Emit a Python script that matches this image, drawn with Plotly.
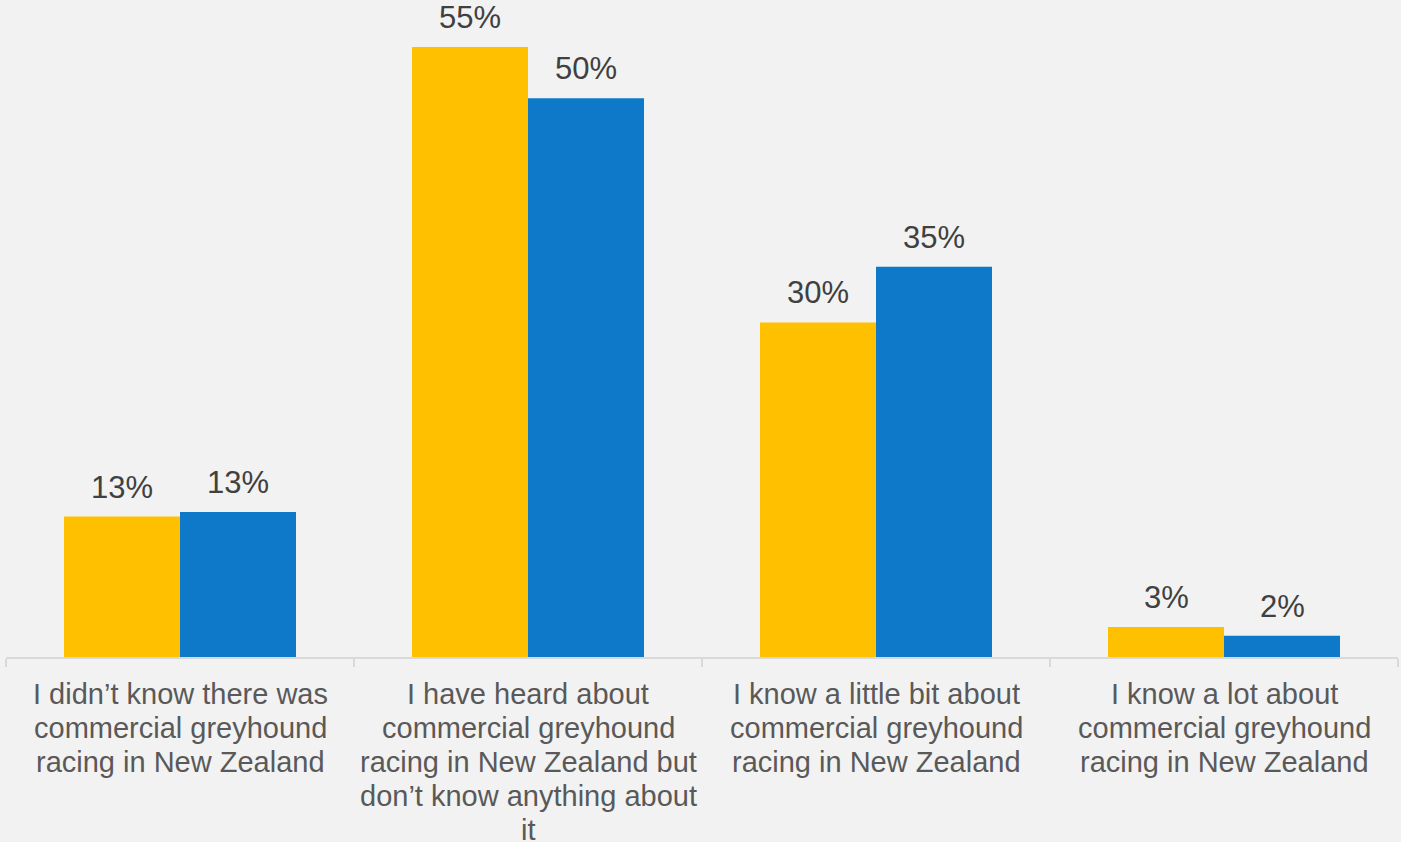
import plotly.graph_objects as go

categories = [
    "I didn’t know there was<br>commercial greyhound<br>racing in New Zealand",
    "I have heard about<br>commercial greyhound<br>racing in New Zealand but<br>don’t know anything about<br>it",
    "I know a little bit about<br>commercial greyhound<br>racing in New Zealand",
    "I know a lot about<br>commercial greyhound<br>racing in New Zealand",
]
series_a = [12.6, 54.7, 30.0, 2.7]
series_b = [13.0, 50.1, 35.0, 1.9]

YELLOW = "#FFC000"
BLUE = "#0E78C9"
FONT = "Liberation Sans, Arial, sans-serif"
LINE_GAP = 34  # px between category label lines
FIRST_LINE = 37  # px from axis to first line centre

fig = go.Figure()
fig.add_trace(go.Bar(x=categories, y=series_a, marker=dict(color=YELLOW, line=dict(width=0)),
                     name="A", hoverinfo="skip"))
fig.add_trace(go.Bar(x=categories, y=series_b, marker=dict(color=BLUE, line=dict(width=0)),
                     name="B", hoverinfo="skip"))

annotations = []
for vals, shift in ((series_a, -58), (series_b, 58)):
    for c, v in zip(categories, vals):
        annotations.append(dict(
            x=c, y=v, xref="x", yref="y", text=f"{v:.0f}%", showarrow=False,
            xshift=shift, yshift=10, yanchor="bottom",
            font=dict(family=FONT, size=31, color="#404040"),
        ))

# category labels, one annotation per line for tighter line spacing
for c in categories:
    for i, line in enumerate(c.split("<br>")):
        annotations.append(dict(
            x=c, y=0, xref="x", yref="y", text=line, showarrow=False,
            yanchor="middle", yshift=-(FIRST_LINE + LINE_GAP * i),
            font=dict(family=FONT, size=29, color="#595959"),
        ))

fig.update_layout(
    width=1401, height=842,
    margin=dict(l=6, r=3, t=0, b=185, autoexpand=False),
    paper_bgcolor="#F2F2F2", plot_bgcolor="#F2F2F2",
    barmode="group", bargap=0.3333, bargroupgap=0,
    showlegend=False,
    annotations=annotations,
    font=dict(family=FONT),
)
fig.update_xaxes(
    showline=True, linecolor="#D9D9D9", linewidth=2,
    ticks="outside", tickson="boundaries", ticklen=8, tickcolor="#D9D9D9", tickwidth=2,
    showticklabels=False,
    showgrid=False, automargin=False, fixedrange=True,
)
fig.update_yaxes(
    range=[0, 58.92], visible=False, showgrid=False, zeroline=False, fixedrange=True,
)

fig.write_html(
    "out.html",
    config={"displayModeBar": False},
    post_script="document.body.style.margin='0';document.body.style.overflow='hidden';",
)
